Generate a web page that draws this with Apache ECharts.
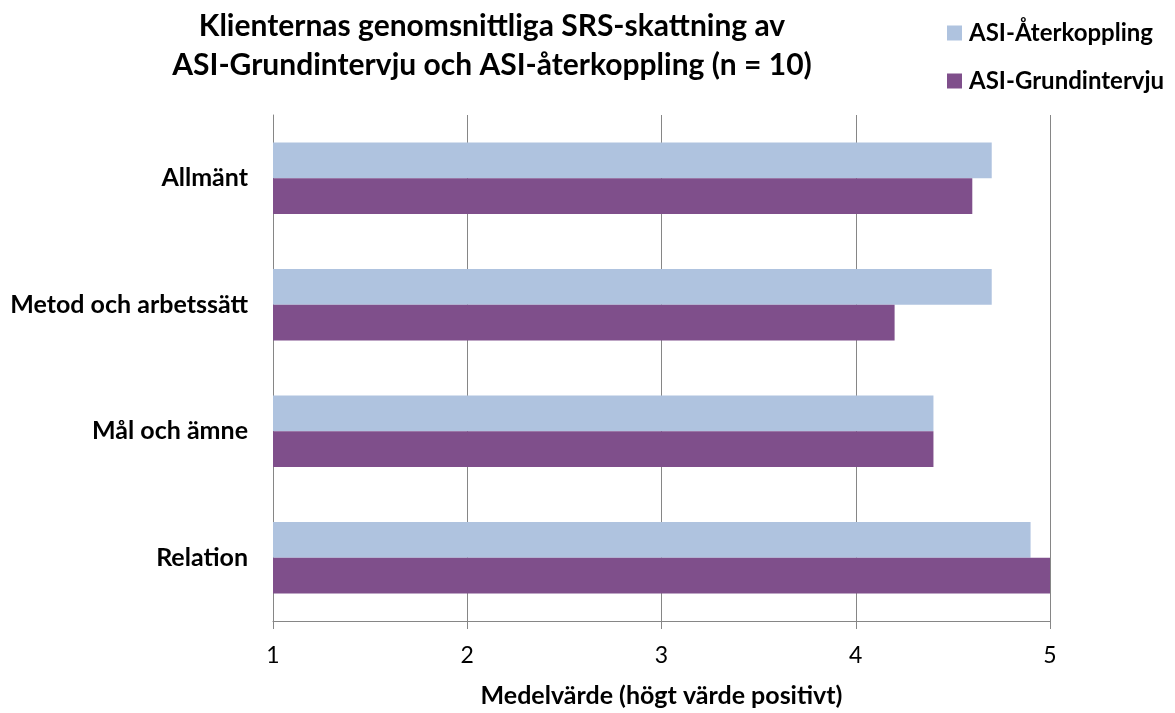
<!DOCTYPE html>
<html>
<head>
<meta charset="utf-8">
<script src="https://cdn.jsdelivr.net/npm/echarts@6/dist/echarts.min.js"></script>
<style>
  html, body { margin: 0; padding: 0; background: #fff; }
  #chart { width: 1175px; height: 713px; }
</style>
</head>
<body>
<div id="chart"></div>
<script>
// Categories, top to bottom
const categories = ['Allmänt', 'Metod och arbetssätt', 'Mål och ämne', 'Relation'];
// Mean SRS ratings per series
const aterkoppling = [4.7, 4.7, 4.4, 4.9];
const grundintervju = [4.6, 4.2, 4.4, 5.0];
const seriesNames = ['ASI-Återkoppling', 'ASI-Grundintervju'];
const xTicks = [1, 2, 3, 4, 5];

const FONT = 'Lato, "Open Sans", sans-serif';
const GRID_COLOR = '#868686';

const chart = echarts.init(document.getElementById('chart'), null, { renderer: 'canvas' });

chart.setOption({
  animation: false,
  backgroundColor: '#ffffff',
  title: {
    text: 'Klienternas genomsnittliga SRS-skattning av\nASI-Grundintervju och ASI-återkoppling (n = 10)',
    left: 492,
    top: 7,
    padding: 0,
    textAlign: 'center',
    textStyle: {
      fontFamily: FONT,
      fontWeight: 'bold',
      fontSize: 30,
      lineHeight: 39,
      color: '#000'
    }
  },
  legend: {
    orient: 'vertical',
    left: 947,
    top: 21,
    padding: 0,
    itemWidth: 15,
    itemHeight: 15,
    itemGap: 24,
    icon: 'rect',
    data: seriesNames,
    textStyle: {
      fontFamily: FONT,
      fontWeight: 'bold',
      fontSize: 24,
      lineHeight: 24,
      color: '#000',
      padding: [0, 0, 0, 2]
    }
  },
  grid: {
    left: 273,
    right: 125,
    top: 115,
    bottom: 87,
    containLabel: false
  },
  xAxis: {
    type: 'value',
    min: xTicks[0],
    max: xTicks[xTicks.length - 1],
    interval: 1,
    name: 'Medelvärde (högt värde positivt)',
    nameLocation: 'middle',
    nameGap: 62,
    nameTextStyle: {
      fontFamily: FONT,
      fontWeight: 'bold',
      fontSize: 25,
      color: '#000'
    },
    axisLine: { show: true, lineStyle: { color: GRID_COLOR, width: 1 } },
    axisTick: { show: true, length: 8, lineStyle: { color: GRID_COLOR } },
    axisLabel: {
      fontFamily: FONT,
      fontSize: 23,
      color: '#000',
      margin: 23
    },
    splitLine: { show: true, lineStyle: { color: GRID_COLOR, width: 1 } }
  },
  yAxis: {
    type: 'category',
    inverse: true,
    data: categories,
    axisLine: { show: true, lineStyle: { color: GRID_COLOR, width: 1 } },
    axisTick: { show: false },
    axisLabel: {
      fontFamily: FONT,
      fontWeight: 'bold',
      fontSize: 25,
      color: '#000',
      margin: 25
    }
  },
  series: [
    {
      name: seriesNames[0],
      type: 'bar',
      data: aterkoppling,
      barGap: '0%',
      barCategoryGap: '43.6%',
      itemStyle: { color: '#AFC3DF' }
    },
    {
      name: seriesNames[1],
      type: 'bar',
      data: grundintervju,
      barGap: '0%',
      barCategoryGap: '43.6%',
      itemStyle: { color: '#7F4F8B' }
    }
  ]
});
</script>
</body>
</html>
